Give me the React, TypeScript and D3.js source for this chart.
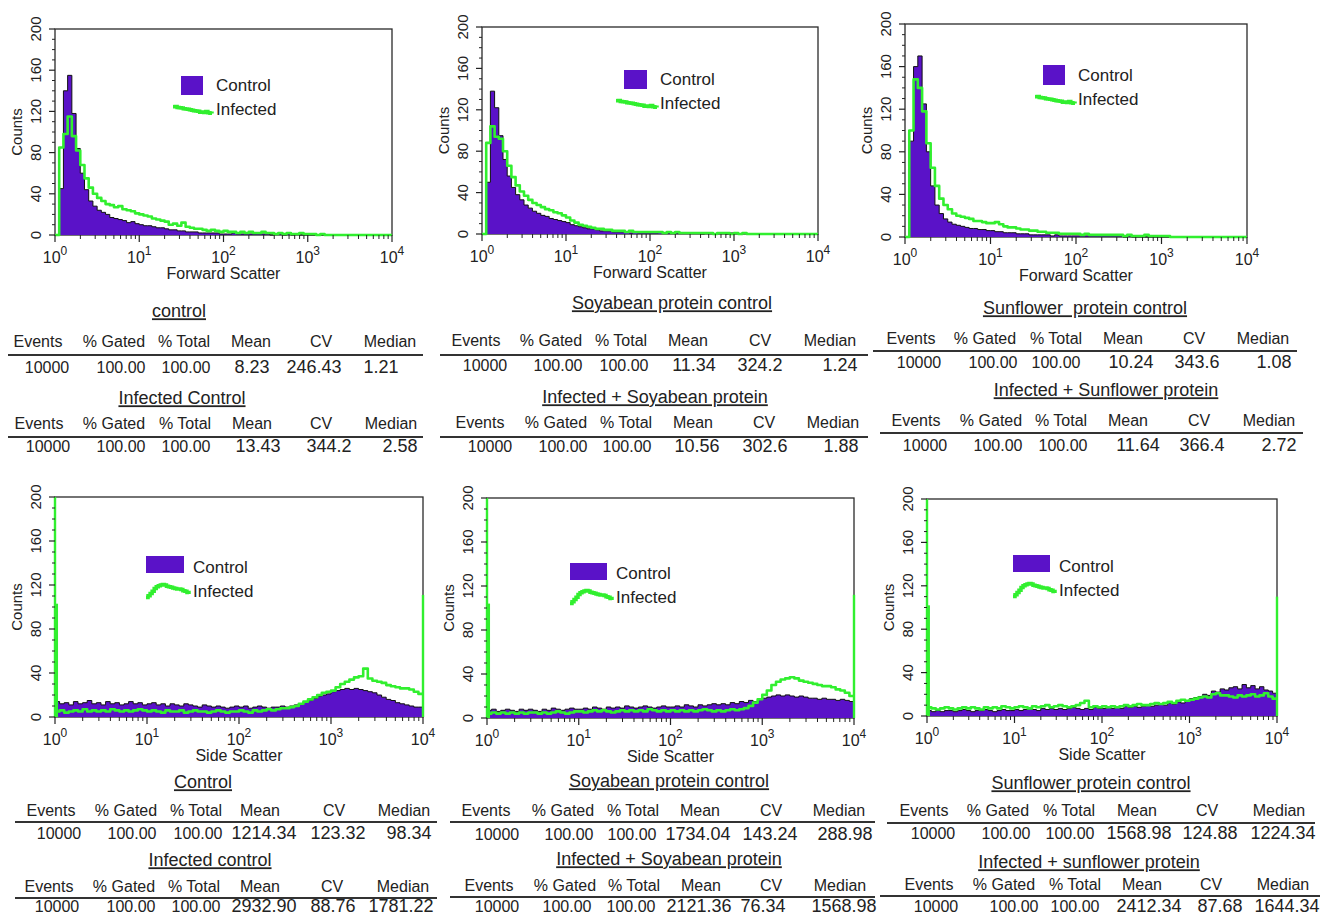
import React from "react";
import * as d3 from "d3";

// each histogram channel covers 0.05 decade of the 10^0..10^4 log axis
const BIN_STEP = 0.05;
const FONT = "'Liberation Sans', Arial, Helvetica, sans-serif";
const PURPLE = "#5a12c8";
const GREEN = "#31ef2f";

// ---- Forward scatter histograms (counts per channel) ----
const fscControlA = [
  0, 45, 140, 155, 118, 84, 60, 44, 33, 28,
  24, 22, 20, 17, 16, 15, 14, 12, 13, 11,
  10, 9, 9, 8, 7, 7, 6, 5, 5, 4,
  4, 3, 3, 3, 2, 2, 2, 2, 2, 1,
  1, 1, 2, 1, 1, 1, 1, 1, 1, 1,
  1, 0, 1, 1, 0, 1, 0, 1, 0, 0,
  0, 0, 0, 0, 0, 0, 0, 0, 0, 0,
  0, 0, 0, 0, 0, 0, 0, 0, 0, 0,
];
const fscInfectedA = [
  0, 85, 98, 115, 96, 82, 68, 55, 46, 40,
  36, 33, 30, 29, 27, 28, 25, 24, 23, 21,
  20, 19, 18, 16, 15, 14, 13, 10, 11, 9,
  12, 8, 7, 6, 6, 5, 4, 5, 4, 3,
  4, 3, 3, 2, 3, 2, 3, 2, 2, 3,
  2, 2, 1, 2, 1, 2, 1, 1, 2, 1,
  1, 1, 0, 1, 0, 0, 0, 0, 0, 0,
  0, 0, 0, 0, 0, 0, 0, 0, 0, 0,
];
const fscControlB = [
  0, 50, 138, 122, 95, 72, 56, 45, 38, 33,
  28, 25, 22, 20, 18, 17, 15, 14, 13, 12,
  11, 9, 8, 7, 6, 5, 5, 4, 3, 3,
  3, 2, 2, 2, 2, 1, 2, 1, 1, 1,
  1, 1, 2, 1, 1, 1, 1, 1, 1, 1,
  1, 1, 0, 1, 1, 0, 1, 1, 0, 1,
  1, 0, 1, 0, 0, 0, 0, 0, 0, 0,
  0, 0, 0, 0, 0, 0, 0, 0, 0, 0,
];
const fscInfectedB = [
  0, 88, 104, 94, 92, 80, 66, 55, 47, 41,
  37, 33, 30, 28, 26, 24, 23, 21, 20, 18,
  16, 13, 11, 9, 8, 7, 6, 5, 5, 4,
  4, 3, 3, 3, 2, 3, 2, 2, 2, 2,
  2, 2, 2, 1, 2, 1, 2, 1, 1, 1,
  1, 1, 1, 1, 1, 0, 1, 1, 1, 0,
  1, 0, 1, 0, 0, 0, 0, 0, 0, 0,
  0, 0, 0, 0, 0, 0, 0, 0, 0, 0,
];
const fscControlC = [
  0, 90, 160, 170, 125, 80, 48, 30, 22, 17,
  14, 12, 11, 10, 9, 8, 8, 7, 7, 6,
  6, 5, 5, 4, 4, 4, 3, 3, 3, 2,
  2, 2, 2, 2, 1, 2, 1, 1, 1, 1,
  1, 1, 1, 1, 1, 1, 1, 1, 1, 1,
  1, 0, 1, 0, 0, 0, 0, 0, 0, 0,
  0, 0, 0, 0, 0, 0, 0, 0, 0, 0,
  0, 0, 0, 0, 0, 0, 0, 0, 0, 0,
];
const fscInfectedC = [
  0, 100, 148, 140, 118, 88, 65, 48, 36, 30,
  26, 22, 20, 19, 18, 17, 15, 15, 14, 13,
  13, 14, 12, 10, 9, 9, 8, 7, 7, 6,
  6, 5, 5, 4, 4, 4, 3, 3, 3, 3,
  3, 2, 3, 2, 2, 2, 2, 2, 2, 2,
  2, 1, 2, 1, 1, 1, 2, 1, 1, 1,
  1, 1, 0, 0, 0, 0, 0, 0, 0, 0,
  0, 0, 0, 0, 0, 0, 0, 0, 0, 0,
];

// ---- Side scatter histograms ----
const sscControlA = [
  14, 12, 13, 11, 14, 12, 13, 15, 12, 13,
  11, 14, 12, 13, 11, 12, 14, 12, 13, 11,
  12, 13, 11, 12, 10, 12, 11, 10, 12, 11,
  10, 9, 11, 10, 9, 10, 9, 8, 9, 10,
  9, 10, 8, 9, 10, 9, 8, 9, 9, 10,
  9, 10, 11, 12, 14, 15, 17, 19, 20, 21,
  23, 24, 25, 26, 25, 26, 25, 24, 23, 22,
  20, 18, 16, 15, 13, 12, 11, 10, 9, 9,
];
const sscInfectedA = [
  5, 6, 4, 5, 6, 5, 7, 5, 6, 5,
  6, 5, 7, 6, 5, 6, 5, 6, 7, 6,
  5, 6, 5, 4, 6, 5, 5, 6, 4, 5,
  6, 5, 5, 4, 5, 6, 5, 4, 5, 5,
  6, 5, 4, 6, 5, 6, 7, 6, 7, 8,
  8, 9, 10, 12, 14, 16, 18, 20, 22, 23,
  24, 27, 30, 32, 34, 36, 37, 44, 35, 33,
  32, 31, 29, 28, 27, 26, 26, 25, 23, 21,
];
const sscControlB = [
  7, 8, 6, 7, 8, 7, 6, 8, 7, 8,
  7, 6, 8, 7, 9, 8, 7, 8, 9, 8,
  8, 9, 8, 10, 9, 8, 10, 9, 10, 9,
  11, 10, 9, 10, 11, 10, 9, 10, 11, 10,
  10, 11, 10, 12, 11, 10, 12, 11, 12, 13,
  12, 13, 12, 14, 13, 15, 14, 16, 15, 17,
  18, 19, 20, 21, 20, 21, 20, 19, 20, 19,
  18, 18, 17, 18, 17, 17, 16, 17, 16, 15,
];
const sscInfectedB = [
  4, 5, 4, 5, 4, 5, 4, 5, 4, 5,
  5, 4, 5, 4, 5, 6, 5, 4, 5, 6,
  6, 5, 6, 7, 6, 7, 6, 5, 6, 7,
  6, 7, 6, 7, 6, 8, 7, 6, 7, 6,
  7, 6, 7, 6, 7, 6, 7, 8, 7, 6,
  7, 6, 7, 8, 7, 8, 9, 11, 14, 17,
  21, 25, 30, 33, 35, 36, 37, 36, 34, 33,
  32, 31, 30, 29, 29, 28, 26, 25, 23, 20,
];
const sscControlC = [
  5, 4, 5, 4, 5, 5, 4, 5, 6, 5,
  4, 5, 5, 6, 5, 4, 5, 6, 5, 5,
  6, 5, 6, 7, 6, 5, 7, 6, 7, 6,
  7, 6, 7, 8, 7, 6, 7, 6, 8, 7,
  7, 8, 7, 8, 7, 9, 8, 9, 8, 9,
  10, 9, 10, 11, 10, 12, 11, 13, 12, 14,
  16, 17, 18, 20, 19, 23, 22, 25, 24, 26,
  27, 25, 29, 26, 28, 25, 27, 24, 23, 21,
];
const sscInfectedC = [
  8, 7, 6, 7, 8, 7, 6, 7, 8, 7,
  8, 7, 6, 8, 7, 8, 7, 9, 8, 7,
  8, 9, 8, 7, 9, 8, 9, 10, 8, 9,
  10, 9, 8, 9, 10, 12, 14, 8, 9, 8,
  9, 8, 9, 8, 9, 10, 9, 10, 11, 10,
  10, 11, 12, 11, 12, 13, 12, 14, 15, 14,
  15, 16, 17, 18, 17, 20, 21, 19, 19, 18,
  17, 19, 18, 19, 20, 18, 19, 21, 18, 16,
];
// infected counts piled in the first two and the last channel of the side scatter axis
const sscEdgeLeft = [[230, 103], [230, 104], [230, 102]];
const sscEdgeRight = [111, 112, 110];

// ---- statistics tables ----
const statHeaders = ["Events", "% Gated", "% Total", "Mean", "CV", "Median"];
const fscTitles = [
  ["control", "Infected Control"],
  ["Soyabean protein control", "Infected + Soyabean protein"],
  ["Sunflower  protein control", "Infected + Sunflower protein"],
];
const sscTitles = [
  ["Control", "Infected control"],
  ["Soyabean protein control", "Infected + Soyabean protein"],
  ["Sunflower protein control", "Infected + sunflower protein"],
];
const fscControlRow = ["10000", "100.00", "100.00", "8.23", "246.43", "1.21"];
const fscInfectedRow = ["10000", "100.00", "100.00", "13.43", "344.2", "2.58"];
const fscSoyRow = ["10000", "100.00", "100.00", "11.34", "324.2", "1.24"];
const fscSoyInfectedRow = ["10000", "100.00", "100.00", "10.56", "302.6", "1.88"];
const fscSunRow = ["10000", "100.00", "100.00", "10.24", "343.6", "1.08"];
const fscSunInfectedRow = ["10000", "100.00", "100.00", "11.64", "366.4", "2.72"];
const sscControlRow = ["10000", "100.00", "100.00", "1214.34", "123.32", "98.34"];
const sscInfectedRow = ["10000", "100.00", "100.00", "2932.90", "88.76", "1781.22"];
const sscSoyRow = ["10000", "100.00", "100.00", "1734.04", "143.24", "288.98"];
const sscSoyInfectedRow = ["10000", "100.00", "100.00", "2121.36", "76.34", "1568.98"];
const sscSunRow = ["10000", "100.00", "100.00", "1568.98", "124.88", "1224.34"];
const sscSunInfectedRow = ["10000", "100.00", "100.00", "2412.34", "87.68", "1644.34"];

// ---- layout ----
const boxes = [
  { left: 55, right: 392, top: 29, bottom: 235 },
  { left: 482, right: 818, top: 27, bottom: 234 },
  { left: 905, right: 1247, top: 24, bottom: 237 },
  { left: 55, right: 423, top: 497, bottom: 717 },
  { left: 487, right: 854, top: 498, bottom: 718 },
  { left: 927, right: 1277, top: 499, bottom: 716 },
];

const legends = [
  { sq: [181, 76, 22, 19], textX: 216, controlY: 85, line: [173, 212], lineY: 110, lineH: 7, infectedY: 109 },
  { sq: [624, 70, 23, 19], textX: 660, controlY: 79, line: [616, 657], lineY: 104, lineH: 7, infectedY: 103 },
  { sq: [1043, 65, 22, 20], textX: 1078, controlY: 75, line: [1035, 1075], lineY: 100, lineH: 7, infectedY: 99 },
  { sq: [146, 556, 38, 17], textX: 193, controlY: 567, line: [146, 189], lineY: 591, lineH: 13, infectedY: 591 },
  { sq: [570, 563, 37, 17], textX: 616, controlY: 573, line: [570, 612], lineY: 597, lineH: 13, infectedY: 597 },
  { sq: [1013, 555, 37, 17], textX: 1059, controlY: 566, line: [1013, 1055], lineY: 590, lineH: 13, infectedY: 590 },
];

const tableLayouts = [
  [
    { titleX: 179, titleY: 311, headerY: 341, ruleY: 355, rule: [8, 423], valueY: 367, headerX: [38, 114, 184, 251, 321, 390], valueX: [47, 121, 186, 252, 314, 381] },
    { titleX: 182, titleY: 398, headerY: 423, ruleY: 437, rule: [8, 423], valueY: 446, headerX: [39, 114, 185, 252, 321, 391], valueX: [48, 121, 186, 258, 329, 400] },
  ],
  [
    { titleX: 672, titleY: 303, headerY: 340, ruleY: 355, rule: [440, 868], valueY: 365, headerX: [476, 551, 621, 688, 760, 830], valueX: [485, 558, 624, 694, 760, 840] },
    { titleX: 655, titleY: 397, headerY: 422, ruleY: 437, rule: [440, 868], valueY: 446, headerX: [480, 556, 626, 693, 764, 833], valueX: [490, 563, 627, 697, 765, 841] },
  ],
  [
    { titleX: 1085, titleY: 308, headerY: 338, ruleY: 351, rule: [873, 1297], valueY: 362, headerX: [911, 985, 1056, 1123, 1194, 1263], valueX: [919, 993, 1056, 1131, 1197, 1274] },
    { titleX: 1106, titleY: 390, headerY: 420, ruleY: 433, rule: [880, 1303], valueY: 445, headerX: [916, 991, 1061, 1128, 1199, 1269], valueX: [925, 998, 1063, 1138, 1202, 1279] },
  ],
  [
    { titleX: 203, titleY: 782, headerY: 810, ruleY: 822, rule: [15, 437], valueY: 833, headerX: [51, 126, 196, 260, 334, 404], valueX: [59, 132, 198, 264, 338, 409] },
    { titleX: 210, titleY: 860, headerY: 886, ruleY: 898, rule: [15, 437], valueY: 906, headerX: [49, 124, 194, 260, 332, 403], valueX: [57, 131, 196, 264, 333, 401] },
  ],
  [
    { titleX: 669, titleY: 781, headerY: 810, ruleY: 822, rule: [450, 875], valueY: 834, headerX: [486, 563, 633, 700, 771, 839], valueX: [497, 569, 632, 698, 770, 845] },
    { titleX: 669, titleY: 859, headerY: 885, ruleY: 897, rule: [450, 875], valueY: 906, headerX: [489, 565, 634, 701, 771, 840], valueX: [497, 567, 631, 699, 763, 844] },
  ],
  [
    { titleX: 1091, titleY: 783, headerY: 810, ruleY: 823, rule: [887, 1315], valueY: 833, headerX: [924, 998, 1069, 1137, 1207, 1279], valueX: [933, 1006, 1070, 1139, 1210, 1283] },
    { titleX: 1089, titleY: 862, headerY: 884, ruleY: 896, rule: [880, 1320], valueY: 906, headerX: [929, 1004, 1075, 1142, 1211, 1283], valueX: [936, 1014, 1075, 1149, 1220, 1287] },
  ],
];

// legend swatch shapes are cut from the infected series
const fscSwatch = fscInfectedA.slice(14, 34);
const sscSwatch = sscInfectedB.slice(58, 80);

const panels = [
  { xLabel: "Forward Scatter", control: fscControlA, infected: fscInfectedA, swatch: fscSwatch, titles: fscTitles[0], rows: [fscControlRow, fscInfectedRow] },
  { xLabel: "Forward Scatter", control: fscControlB, infected: fscInfectedB, swatch: fscSwatch, titles: fscTitles[1], rows: [fscSoyRow, fscSoyInfectedRow] },
  { xLabel: "Forward Scatter", control: fscControlC, infected: fscInfectedC, swatch: fscSwatch, titles: fscTitles[2], rows: [fscSunRow, fscSunInfectedRow] },
  { xLabel: "Side Scatter", control: sscControlA, infected: sscInfectedA, swatch: sscSwatch, titles: sscTitles[0], rows: [sscControlRow, sscInfectedRow], edgeLeft: sscEdgeLeft[0], edgeRight: sscEdgeRight[0] },
  { xLabel: "Side Scatter", control: sscControlB, infected: sscInfectedB, swatch: sscSwatch, titles: sscTitles[1], rows: [sscSoyRow, sscSoyInfectedRow], edgeLeft: sscEdgeLeft[1], edgeRight: sscEdgeRight[1] },
  { xLabel: "Side Scatter", control: sscControlC, infected: sscInfectedC, swatch: sscSwatch, titles: sscTitles[2], rows: [sscSunRow, sscSunInfectedRow], edgeLeft: sscEdgeLeft[2], edgeRight: sscEdgeRight[2] },
];

const toPoints = (counts: number[]) => [
  ...counts.map((c, i) => [Math.pow(10, i * BIN_STEP), c]),
  [1e4, counts[counts.length - 1]],
];

const Histogram = ({ panel, box, legend, index }) => {
  const x = d3.scaleLog().domain([1, 1e4]).range([box.left, box.right]);
  const y = d3.scaleLinear().domain([0, 200]).range([box.bottom, box.top]).clamp(true);

  const area = d3
    .area()
    .x((d) => x(d[0]))
    .y0(y(0))
    .y1((d) => y(d[1]))
    .curve(d3.curveStepAfter);
  const line = d3
    .line()
    .x((d) => x(d[0]))
    .y((d) => y(d[1]))
    .curve(d3.curveStepAfter);

  const majors = [1, 10, 100, 1000, 10000];
  const minors = d3.range(0, 4).flatMap((d) => d3.range(2, 10).map((k) => k * Math.pow(10, d)));
  const yMajor = d3.range(0, 201, 40);
  const yMinor = d3.range(0, 201, 10).filter((v) => v % 40 !== 0);
  const clipId = `plot-clip-${index}`;

  const controlPts = toPoints(panel.control);
  const infectedPts = toPoints(panel.infected);

  const sw = panel.swatch;
  const lx = d3.scaleLinear().domain([0, sw.length - 1]).range(legend.line);
  const ly = d3
    .scaleLinear()
    .domain(d3.extent(sw))
    .range([legend.lineY + legend.lineH / 2, legend.lineY - legend.lineH / 2]);
  const swatchPath = d3
    .line()
    .x((d, i) => lx(i))
    .y((d) => ly(d))
    .curve(d3.curveStepAfter)(sw);

  const midY = (box.top + box.bottom) / 2;
  const midX = (box.left + box.right) / 2;

  return (
    <g>
      <defs>
        <clipPath id={clipId}>
          <rect x={box.left - 2} y={box.top} width={box.right - box.left + 4} height={box.bottom - box.top + 2} />
        </clipPath>
      </defs>
      <rect
        x={box.left}
        y={box.top}
        width={box.right - box.left}
        height={box.bottom - box.top}
        fill="#fff"
        stroke="#2a2a2a"
        strokeWidth={1.3}
      />
      <g clipPath={`url(#${clipId})`}>
        <path d={area(controlPts)} fill={PURPLE} />
        <path d={line(controlPts)} fill="none" stroke="#111" strokeWidth={1} />
        <path d={line(infectedPts)} fill="none" stroke={GREEN} strokeWidth={2.6} strokeLinejoin="round" />
        {panel.edgeLeft &&
          panel.edgeLeft.map((v, i) => (
            <line
              key={i}
              x1={x(Math.pow(10, i * 0.02))}
              x2={x(Math.pow(10, i * 0.02))}
              y1={y(0)}
              y2={y(v)}
              stroke={GREEN}
              strokeWidth={2.4}
            />
          ))}
        {panel.edgeRight && (
          <line x1={x(1e4)} x2={x(1e4)} y1={y(0)} y2={y(panel.edgeRight)} stroke={GREEN} strokeWidth={2.4} />
        )}
      </g>

      {/* y axis */}
      {yMinor.map((v) => (
        <line key={`ym${v}`} x1={box.left - 3} x2={box.left} y1={y(v)} y2={y(v)} stroke="#222" strokeWidth={1} />
      ))}
      {yMajor.map((v) => (
        <g key={`yM${v}`}>
          <line x1={box.left - 6} x2={box.left} y1={y(v)} y2={y(v)} stroke="#222" strokeWidth={1.2} />
          <text
            transform={`translate(${box.left - 19},${y(v)}) rotate(-90)`}
            textAnchor="middle"
            dy="0.35em"
            fontSize={15}
            fill="#222"
          >
            {v}
          </text>
        </g>
      ))}
      <text
        transform={`translate(${box.left - 38},${midY}) rotate(-90)`}
        textAnchor="middle"
        dy="0.35em"
        fontSize={15}
        fill="#222"
      >
        Counts
      </text>

      {/* x axis */}
      {minors.map((v) => (
        <line key={`xm${v}`} x1={x(v)} x2={x(v)} y1={box.bottom} y2={box.bottom + 4} stroke="#222" strokeWidth={1} />
      ))}
      {majors.map((v, i) => (
        <g key={`xM${v}`}>
          <line x1={x(v)} x2={x(v)} y1={box.bottom} y2={box.bottom + 7} stroke="#222" strokeWidth={1.2} />
          <text x={x(v)} y={box.bottom + 28} textAnchor="middle" fontSize={16} fill="#222">
            10
            <tspan dy={-8} fontSize={12}>
              {i}
            </tspan>
          </text>
        </g>
      ))}
      <text x={midX} y={box.bottom + 44} textAnchor="middle" fontSize={16} fill="#222">
        {panel.xLabel}
      </text>

      {/* legend */}
      <rect x={legend.sq[0]} y={legend.sq[1]} width={legend.sq[2]} height={legend.sq[3]} fill={PURPLE} />
      <text x={legend.textX} y={legend.controlY} dy="0.35em" fontSize={17} fill="#222">
        Control
      </text>
      <path d={swatchPath} fill="none" stroke={GREEN} strokeWidth={3.5} />
      <text x={legend.textX} y={legend.infectedY} dy="0.35em" fontSize={17} fill="#222">
        Infected
      </text>
    </g>
  );
};

const StatTable = ({ title, row, layout }) => (
  <g fill="#222">
    <text
      x={layout.titleX}
      y={layout.titleY}
      dy="0.35em"
      textAnchor="middle"
      fontSize={18}
      style={{ textDecoration: "underline", whiteSpace: "pre" }}
    >
      {title}
    </text>
    {statHeaders.map((h, i) => (
      <text key={h} x={layout.headerX[i]} y={layout.headerY} dy="0.35em" textAnchor="middle" fontSize={16}>
        {h}
      </text>
    ))}
    <line x1={layout.rule[0]} x2={layout.rule[1]} y1={layout.ruleY} y2={layout.ruleY} stroke="#333" strokeWidth={2} />
    {row.map((v, i) => (
      <text
        key={i}
        x={layout.valueX[i]}
        y={layout.valueY}
        dy="0.35em"
        textAnchor="middle"
        fontSize={i < 3 ? 16 : 18}
      >
        {v}
      </text>
    ))}
  </g>
);

export default function App() {
  return (
    <svg
      width={1321}
      height={917}
      style={{ position: "absolute", left: 0, top: 0, background: "#fff" }}
      fontFamily={FONT}
    >
      <rect width={1321} height={917} fill="#fff" />
      {panels.map((p, i) => (
        <g key={i}>
          <Histogram panel={p} box={boxes[i]} legend={legends[i]} index={i} />
          {p.titles.map((t, j) => (
            <StatTable key={j} title={t} row={p.rows[j]} layout={tableLayouts[i][j]} />
          ))}
        </g>
      ))}
    </svg>
  );
}
